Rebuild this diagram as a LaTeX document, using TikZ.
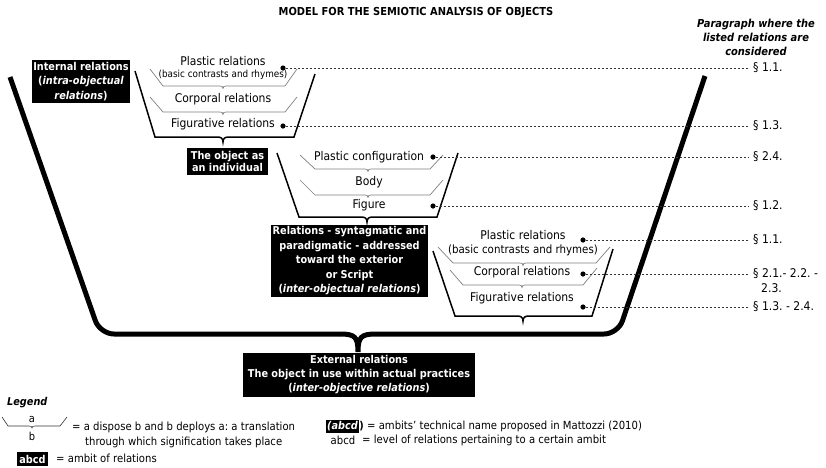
\documentclass[tikz,border=0pt]{standalone}
\usepackage{fontspec}
\setmainfont{DejaVu Sans}[FakeStretch=0.9]
\frenchspacing
\begin{document}
\begin{tikzpicture}[x=1pt,y=-1pt,
  big/.style={line width=5pt},
  trough/.style={line width=1.5pt},
  layer/.style={line width=0.7pt, draw=black!50},
  legline/.style={line width=0.6pt, draw=black!80},
  leader/.style={line width=0.65pt, draw=black!80, dash pattern=on 2.4pt off 1.6pt, shorten >=3pt},
  dot/.style={circle, fill=black, inner sep=0pt, minimum size=5.2pt},
  lbl/.style={inner sep=0pt, font=\fontsize{12}{14}\selectfont},
  sml/.style={inner sep=0pt, font=\fontsize{9.8}{11}\selectfont},
  ref/.style={anchor=west, inner sep=2pt, font=\fontsize{12}{14}\selectfont},
  ambit/.style={fill=black, text=white, align=center, inner sep=0pt,
    font=\bfseries\fontsize{10.8}{14.5}\selectfont},
  legtxt/.style={anchor=west, inner sep=0pt, font=\fontsize{11.2}{14}\selectfont},
  brc/.style n args={4}{insert path={-- ({#1-#4},#2)
     .. controls ({#1-0.35*#4},#2) and (#1,{#2+0.25*#3}) .. (#1,{#2+#3})
     .. controls (#1,{#2+0.25*#3}) and ({#1+0.35*#4},#2) .. ({#1+#4},#2)}}
]
\fill[white] (0,0) rectangle (826,467);
\useasboundingbox (0,0) rectangle (826,467);

% title and column heading
\node[font=\bfseries\fontsize{11}{13}\selectfont] (title) at (416,13)
  {MODEL FOR THE SEMIOTIC ANALYSIS OF OBJECTS};
\node[align=center, inner sep=0pt, font=\bfseries\itshape\fontsize{11}{14}\selectfont] (head) at (756,37)
  {Paragraph where the\\listed relations are\\considered};

% outer trough with its brace
\draw[big, rounded corners=14pt] (10,77) -- (100,334) -- (340,334);
\draw[big] (340,334) .. controls (355,334) and (358,337) .. (358,352)
           .. controls (358,337) and (361,334) .. (376,334);
\draw[big, rounded corners=14pt] (376,334) -- (618,334) -- (705,76);

% first trough: internal relations
\draw[trough] (135,71) -- (155,137) [brc={223}{137}{5}{6}] -- (294,137) -- (315,74);
\draw[layer] (150,69) -- (163,86) [brc={223}{86}{2.5}{3}] -- (285,86) -- (297,69);
\draw[layer] (150,97) -- (163,112) [brc={223}{112}{2.5}{3}] -- (285,112) -- (297,97);
\node[lbl] (pr1) at (223,61) {Plastic relations};
\node[sml] (bc1) at (223,75) {(basic contrasts and rhymes)};
\node[lbl] (cr1) at (223,99) {Corporal relations};
\node[lbl] (fr1) at (223,124) {Figurative relations};

% second trough: the object as an individual
\draw[trough] (277,153) -- (299,217) [brc={367}{217}{5}{6}] -- (437,217) -- (458,153);
\draw[layer] (300,155) -- (315,169) [brc={368}{169}{2.5}{3}] -- (430,169) -- (443,155);
\draw[layer] (300,180) -- (315,195) [brc={368}{195}{2.5}{3}] -- (430,195) -- (443,180);
\node[lbl] (pc2) at (369,157) {Plastic configuration};
\node[lbl] (bo2) at (369,182) {Body};
\node[lbl] (fi2) at (369,205) {Figure};

% third trough: relations toward the exterior
\draw[trough] (433,251) -- (455,316) [brc={523}{316}{5}{6}] -- (592,316) -- (613,249);
\draw[layer] (438,247) -- (453,263) [brc={523}{263}{2.5}{3}] -- (596,263) -- (610,247);
\draw[layer] (450,270) -- (463,285) [brc={522}{285}{2.5}{3}] -- (583,285) -- (597,268);
\node[lbl] (pr3) at (523,235) {Plastic relations};
\node[inner sep=0pt, font=\fontsize{11.4}{13}\selectfont] (bc3) at (523,250) {(basic contrasts and rhymes)};
\node[lbl] (cr3) at (522,272) {Corporal relations};
\node[lbl] (fr3) at (522,298) {Figurative relations};

% ambits
\node[ambit, minimum width=98pt, minimum height=43pt] (internal) at (81,81.5)
  {Internal relations\\(\textit{intra-objectual}\\\textit{relations})};
\node[ambit, minimum width=81pt, minimum height=27pt,
      font=\bfseries\fontsize{10.8}{12.8}\selectfont] (individual) at (227.5,161.5)
  {The object as\\an individual};
\node[ambit, minimum width=157pt, minimum height=72pt] (script) at (349.5,261)
  {Relations - syntagmatic and\\paradigmatic - addressed\\toward the exterior\\or Script\\(\textit{inter-objectual relations})};
\node[ambit, minimum width=232pt, minimum height=44pt,
      font=\bfseries\fontsize{10.8}{14}\selectfont] (external) at (359,375)
  {External relations\\The object in use within actual practices\\(\textit{inter-objective relations})};

% dots and paragraph references
\node[dot] (d1) at (283,68) {};
\node[dot] (d2) at (283,126) {};
\node[dot] (d3) at (433,157) {};
\node[dot] (d4) at (433,206) {};
\node[dot] (d5) at (583,240) {};
\node[dot] (d6) at (583,274) {};
\node[dot] (d7) at (583,307) {};
\node[ref] (s1) at (751,68) {§ 1.1.};
\node[ref] (s2) at (751,126) {§ 1.3.};
\node[ref] (s3) at (751,157) {§ 2.4.};
\node[ref] (s4) at (751,206) {§ 1.2.};
\node[ref] (s5) at (751,240) {§ 1.1.};
\node[ref] (s6) at (751,274) {§ 2.1.- 2.2. -};
\node[ref] (s6b) at (759,288) {2.3.};
\node[ref] (s7) at (751,307) {§ 1.3. - 2.4.};
\foreach \i in {1,...,7} \draw[leader] (d\i) -- (s\i);

% legend
\node[anchor=west, inner sep=0pt, font=\bfseries\itshape\fontsize{10.8}{13}\selectfont] (legend) at (7,403) {Legend};
\draw[legline] (2,417) -- (8,426) [brc={32}{426}{2}{3}] -- (60,426) -- (67,417);
\node[inner sep=0pt, font=\fontsize{11}{13}\selectfont] (la) at (32,419) {a};
\node[inner sep=0pt, font=\fontsize{11}{13}\selectfont] (lb) at (32,436) {b};
\node[legtxt] (l1) at (72,427) {= a dispose b and b deploys a: a translation};
\node[legtxt] (l2) at (85,442) {through which signification takes place};
\node[ambit, minimum width=31pt, minimum height=14pt] (lbox) at (32.5,459) {abcd};
\node[legtxt] (l3) at (56,458) {= ambit of relations};
\node[ambit, anchor=west, inner xsep=1pt, minimum height=13pt,
      font=\bfseries\itshape\fontsize{10.8}{13}\selectfont] (tname) at (326,426) {(abcd};
\node[anchor=west, inner sep=0pt, font=\bfseries\fontsize{10.8}{13}\selectfont] (tclose) at (tname.east) {)};
\node[legtxt, xshift=3pt] (l4) at (tclose.east) {= ambits’ technical name proposed in Mattozzi (2010)};
\node[inner sep=0pt, font=\fontsize{11.2}{14}\selectfont] (lvl) at (343,440) {abcd};
\node[legtxt] (l5) at (362,440) {= level of relations pertaining to a certain ambit};
\end{tikzpicture}
\end{document}
